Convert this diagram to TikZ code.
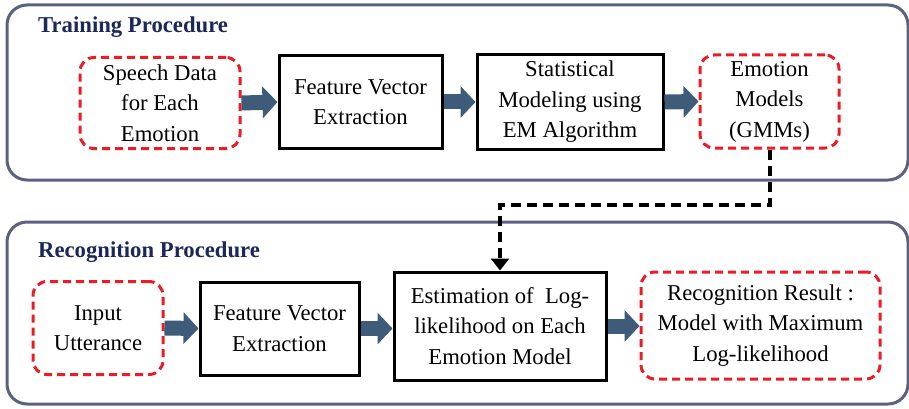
\documentclass[tikz,border=0pt]{standalone}
\usepackage{fontspec}
\setmainfont{Liberation Serif}
\usetikzlibrary{arrows.meta}
\definecolor{panelc}{RGB}{90,98,128}
\definecolor{titlec}{RGB}{27,40,88}
\definecolor{arrowc}{RGB}{62,92,122}
\definecolor{redc}{RGB}{236,28,36}
\begin{document}
\begin{tikzpicture}[x=1pt,y=-1pt,
  panel/.style={draw=panelc,line width=3pt,rounded corners=20pt},
  paneltitle/.style={anchor=west,inner sep=0pt,text=titlec,font=\fontsize{22.7}{25}\selectfont\bfseries},
  txt/.style={align=center,font=\fontsize{22.7}{30.5}\selectfont,inner sep=0pt},
  redbox/.style={txt,draw=redc,line width=3pt,dash pattern=on 8pt off 5pt,rounded corners=14pt},
  blackbox/.style={txt,draw=black,line width=3pt},
  blockarrow/.style={draw=arrowc,line width=15pt,-{Triangle[length=15pt,width=31pt]},arrowc},
  dashlink/.style={draw=black,line width=4pt,dash pattern=on 10pt off 6pt,-{Triangle[length=12pt,width=18pt]}}
]
\useasboundingbox (0,0) rectangle (909,409);
% panels
\draw[panel] (7,5) rectangle (908,180);
\draw[panel] (7,222) rectangle (908,404);
\node[paneltitle] (t1) at (38,27) {Training Procedure};
\node[paneltitle] (t2) at (38,252) {Recognition Procedure};
% training row
\node[redbox,minimum width=160pt,minimum height=91pt] (sd) at (160,103) {Speech Data\\for Each\\Emotion};
\node[blackbox,minimum width=163pt,minimum height=92pt] (fv1) at (360.5,102) {Feature Vector\\Extraction};
\node[blackbox,minimum width=186pt,minimum height=94pt] (sm) at (570,102) {Statistical\\Modeling using\\EM Algorithm};
\node[redbox,minimum width=139pt,minimum height=93pt] (em) at (769.5,101.5) {Emotion\\Models\\(GMMs)};
% recognition row
\node[redbox,minimum width=130pt,minimum height=93pt] (iu) at (98,328) {Input\\Utterance};
\node[blackbox,minimum width=159pt,minimum height=93pt] (fv2) at (279.5,328.5) {Feature Vector\\Extraction};
\node[blackbox,minimum width=212pt,minimum height=108pt] (est) at (500,326) {Estimation of~~Log-\\likelihood on Each\\Emotion Model};
\node[redbox,minimum width=239pt,minimum height=107pt] (rr) at (760.5,325.5) {Recognition Result :\\Model with Maximum\\Log-likelihood};
% block arrows
\draw[blockarrow] (sd.east) -- (fv1.west);
\draw[blockarrow] (fv1.east) -- (sm.west);
\draw[blockarrow] (sm.east) -- (em.west);
\draw[blockarrow] (iu.east) -- (fv2.west);
\draw[blockarrow] (fv2.east) -- (fv2.east -| est.west);
\draw[blockarrow] (est.east) -- (est.east -| rr.west);
% dashed link
\draw[dashlink] (em.south) -- ++(0,55) -| (est.north);
\end{tikzpicture}
\end{document}
